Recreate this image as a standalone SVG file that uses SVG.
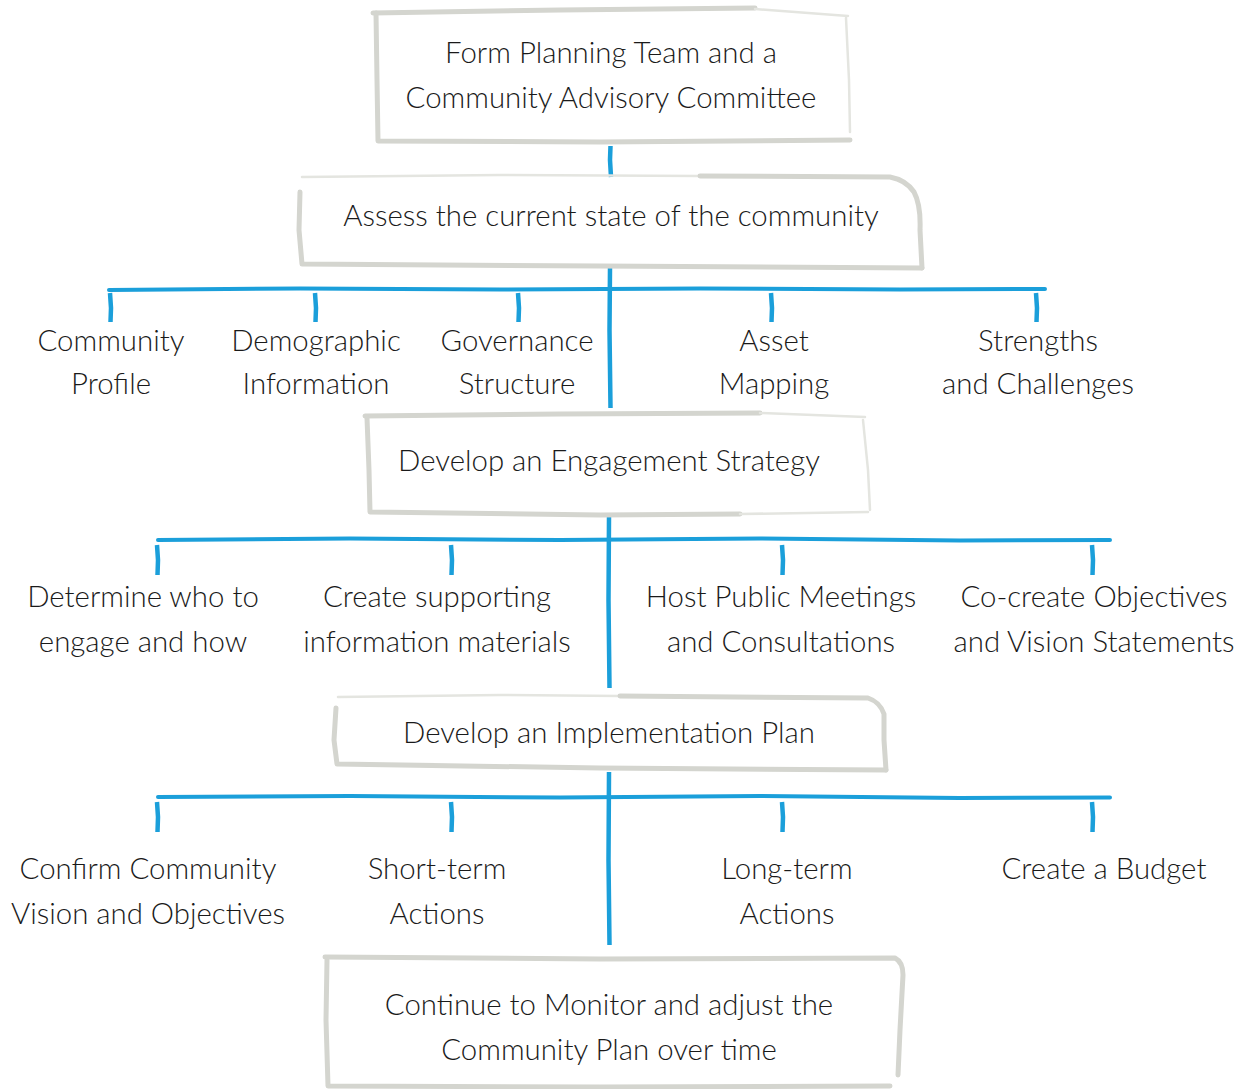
<svg xmlns="http://www.w3.org/2000/svg" width="1255" height="1089" viewBox="0 0 1255 1089">
  <style>
    .box { fill: none; stroke: #d4d5cf; stroke-width: 5; stroke-linecap: round; stroke-linejoin: round; }
    .faint { stroke: #e4e5e0; stroke-width: 2.5; }
    .lbl { font-family: Lato, "Open Sans", sans-serif; font-weight: 300; font-size: 29.4px; fill: #1a1a1a; text-anchor: middle; }
    .wire { fill: none; stroke: #1b9fda; stroke-width: 4; stroke-linecap: round; }
    .drop { fill: none; stroke: #1b9fda; stroke-width: 4.5; stroke-linecap: butt; }
  </style>
  <defs>
    <linearGradient id="fadeA" gradientUnits="userSpaceOnUse" x1="108" y1="0" x2="1045" y2="0">
      <stop offset="0" stop-color="#1b9fda"/>
      <stop offset="0.72" stop-color="#1b9fda"/>
      <stop offset="0.85" stop-color="#1b9fda" stop-opacity="0.45"/>
      <stop offset="1" stop-color="#1b9fda" stop-opacity="0.08"/>
    </linearGradient>
    <linearGradient id="fadeB" gradientUnits="userSpaceOnUse" x1="157" y1="0" x2="1110" y2="0">
      <stop offset="0" stop-color="#1b9fda"/>
      <stop offset="0.68" stop-color="#1b9fda"/>
      <stop offset="0.84" stop-color="#1b9fda" stop-opacity="0.45"/>
      <stop offset="1" stop-color="#1b9fda" stop-opacity="0.08"/>
    </linearGradient>
  </defs>

  <rect width="1255" height="1089" fill="#ffffff"/>

  <!-- connectors -->
  <g id="connectors">
    <!-- stem: form team -> assess -->
    <path class="drop" d="M610.5 146 L610 160 L611 177"/>

    <!-- tier 1 -->
    <path class="wire" stroke="url(#fadeA)" d="M109 290 L300 288.5 L500 289.5 L700 288.5 L900 289.5 L1045 289"/>
    <path class="drop" d="M610 268 L609.5 330 L610.5 408"/>
    <path class="drop" d="M110 293 L111 308 L110.5 322"/>
    <path class="drop" d="M315 293 L316 308 L315.5 322"/>
    <path class="drop" d="M518 293 L519 308 L518.5 322"/>
    <path class="drop" d="M771 293 L772 308 L771.5 322"/>
    <path class="drop" d="M1036 293 L1037 308 L1036.5 322"/>

    <!-- tier 2 -->
    <path class="wire" stroke="url(#fadeB)" d="M158 540 L350 538.5 L560 540 L760 538.5 L960 540.5 L1110 540"/>
    <path class="drop" d="M609 517 L608.5 600 L609.5 688"/>
    <path class="drop" d="M157 545 L158 560 L157.5 575"/>
    <path class="drop" d="M451 545 L452 560 L451.5 575"/>
    <path class="drop" d="M782 545 L783 560 L782.5 575"/>
    <path class="drop" d="M1092 545 L1093 560 L1092.5 575"/>

    <!-- tier 3 -->
    <path class="wire" stroke="url(#fadeB)" d="M158 797 L350 796 L560 797.5 L760 796 L960 798 L1110 797.5"/>
    <path class="drop" d="M609 772 L608.5 860 L609.5 945"/>
    <path class="drop" d="M157 802 L158 817 L157.5 832"/>
    <path class="drop" d="M451 802 L452 817 L451.5 832"/>
    <path class="drop" d="M782 802 L783 817 L782.5 832"/>
    <path class="drop" d="M1092 802 L1093 817 L1092.5 832"/>
  </g>

  <!-- main steps -->
  <g id="step-form-team">
    <path class="box" d="M373 13 L560 10 L755 8"/>
    <path class="box faint" d="M755 9 L848 16"/>
    <path class="box faint" d="M846 18 L849 80 L850 132"/>
    <path class="box" d="M376 13 L377 80 L378 141 L600 142 L850 140"/>
    <text class="lbl" x="611" y="63">Form Planning Team and a</text>
    <text class="lbl" x="611" y="108">Community Advisory Committee</text>
  </g>

  <g id="step-assess">
    <path class="box faint" d="M302 177 L500 175 L700 176"/>
    <path class="box" d="M700 176 L890 177 Q906 180 914 192 Q921 205 920 230 L922 268"/>
    <path class="box" d="M300 192 L299 230 L302 264 L600 266 L922 268"/>
    <text class="lbl" x="611" y="226">Assess the current state of the community</text>
  </g>

  <g id="step-profile">
    <text class="lbl" x="111" y="351">Community</text>
    <text class="lbl" x="111" y="394">Profile</text>
  </g>
  <g id="step-demographic">
    <text class="lbl" x="316" y="351">Demographic</text>
    <text class="lbl" x="316" y="394">Information</text>
  </g>
  <g id="step-governance">
    <text class="lbl" x="517" y="351">Governance</text>
    <text class="lbl" x="517" y="394">Structure</text>
  </g>
  <g id="step-asset">
    <text class="lbl" x="774" y="351">Asset</text>
    <text class="lbl" x="774" y="394">Mapping</text>
  </g>
  <g id="step-strengths">
    <text class="lbl" x="1038" y="351">Strengths</text>
    <text class="lbl" x="1038" y="394">and Challenges</text>
  </g>

  <g id="step-engagement">
    <path class="box" d="M365 416 L560 414 L760 413"/>
    <path class="box faint" d="M760 413 L865 417"/>
    <path class="box faint" d="M863 420 L868 470 L870 510"/>
    <path class="box" d="M367 418 L369 470 L370 512 L600 515 L740 514"/>
    <path class="box faint" d="M740 514 L868 512"/>
    <text class="lbl" x="609" y="471">Develop an Engagement Strategy</text>
  </g>

  <g id="step-who">
    <text class="lbl" x="143" y="607">Determine who to</text>
    <text class="lbl" x="143" y="652">engage and how</text>
  </g>
  <g id="step-materials">
    <text class="lbl" x="437" y="607">Create supporting</text>
    <text class="lbl" x="437" y="652">information materials</text>
  </g>
  <g id="step-meetings">
    <text class="lbl" x="781" y="607">Host Public Meetings</text>
    <text class="lbl" x="781" y="652">and Consultations</text>
  </g>
  <g id="step-cocreate">
    <text class="lbl" x="1094" y="607">Co-create Objectives</text>
    <text class="lbl" x="1094" y="652">and Vision Statements</text>
  </g>

  <g id="step-implementation">
    <path class="box faint" d="M338 697 L500 695 L620 696"/>
    <path class="box" d="M620 696 L868 698 Q880 702 884 714 L884 740 L886 770"/>
    <path class="box" d="M336 708 L334 740 L337 764 L600 768 L886 770"/>
    <text class="lbl" x="609" y="743">Develop an Implementation Plan</text>
  </g>

  <g id="step-confirm">
    <text class="lbl" x="148" y="879">Confirm Community</text>
    <text class="lbl" x="148" y="924">Vision and Objectives</text>
  </g>
  <g id="step-short">
    <text class="lbl" x="437" y="879">Short-term</text>
    <text class="lbl" x="437" y="924">Actions</text>
  </g>
  <g id="step-long">
    <text class="lbl" x="787" y="879">Long-term</text>
    <text class="lbl" x="787" y="924">Actions</text>
  </g>
  <g id="step-budget">
    <text class="lbl" x="1104" y="879">Create a Budget</text>
  </g>

  <g id="step-monitor">
    <path class="box" d="M325 957 L600 959 L895 958 Q903 962 903 975 L900 1030 L898 1075"/>
    <path class="box" d="M327 960 L326 1020 L328 1086 L600 1087 L890 1086"/>
    <text class="lbl" x="609" y="1015">Continue to Monitor and adjust the</text>
    <text class="lbl" x="609" y="1060">Community Plan over time</text>
  </g>
</svg>
